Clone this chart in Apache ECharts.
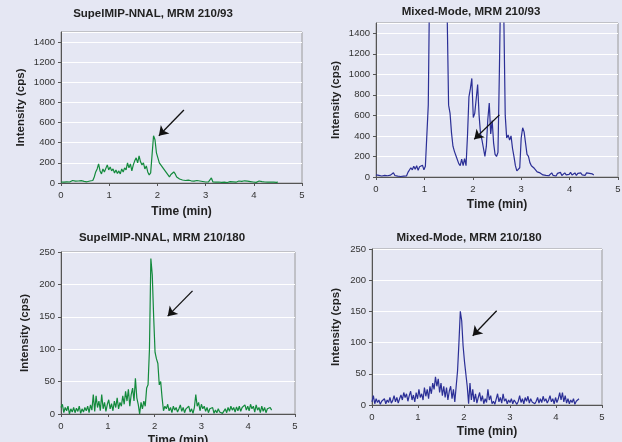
<!DOCTYPE html>
<html>
<head>
<meta charset="utf-8">
<script src="https://cdn.jsdelivr.net/npm/echarts@6/dist/echarts.min.js"></script>
<style>
html,body{margin:0;padding:0;background:#e5e7f3;}
#c{width:622px;height:442px;}
</style>
</head>
<body>
<div id="c"></div>
<script>
// Retention time (min), shared by all four chromatograms
const times = [
0,0.03,0.06,0.09,0.12,0.15,0.18,0.21,0.24,0.27,
0.3,0.33,0.36,0.39,0.42,0.45,0.48,0.51,0.54,0.57,
0.6,0.63,0.66,0.69,0.72,0.75,0.78,0.81,0.84,0.87,
0.9,0.93,0.96,0.99,1.02,1.05,1.08,1.11,1.14,1.17,
1.2,1.23,1.26,1.29,1.32,1.35,1.38,1.41,1.44,1.47,
1.5,1.53,1.56,1.59,1.62,1.65,1.68,1.71,1.74,1.77,
1.8,1.83,1.86,1.89,1.92,1.95,1.98,2.01,2.04,2.07,
2.1,2.13,2.16,2.19,2.22,2.25,2.28,2.31,2.34,2.37,
2.4,2.43,2.46,2.49,2.52,2.55,2.58,2.61,2.64,2.67,
2.7,2.73,2.76,2.79,2.82,2.85,2.88,2.91,2.94,2.97,
3,3.03,3.06,3.09,3.12,3.15,3.18,3.21,3.24,3.27,
3.3,3.33,3.36,3.39,3.42,3.45,3.48,3.51,3.54,3.57,
3.6,3.63,3.66,3.69,3.72,3.75,3.78,3.81,3.84,3.87,
3.9,3.93,3.96,3.99,4.02,4.05,4.08,4.11,4.14,4.17,
4.2,4.23,4.26,4.29,4.32,4.35,4.38,4.41,4.44,4.47,
4.5];

// SupelMIP-NNAL, MRM 210/93 (cps)
const mip93 = [
10,20,8,18,12,22,10,15,25,12,
18,8,20,14,24,10,16,22,12,28,
20,35,25,60,110,140,190,120,90,140,
110,125,180,130,160,120,140,100,130,95,
120,90,140,110,150,130,200,150,190,120,
180,220,250,200,270,210,180,200,140,170,
110,80,100,90,470,430,300,250,200,210,
160,140,120,110,80,60,85,70,110,90,
60,55,40,50,30,35,25,20,28,15,
22,12,18,10,25,12,20,8,15,22,
10,18,12,20,50,12,20,8,15,10,
18,6,12,8,15,5,10,14,6,12,
18,8,14,20,10,16,8,22,12,18,
8,14,20,10,16,6,12,20,8,14,
22,10,16,8,14,10,18,8,12,6,
10];

// Mixed-Mode, MRM 210/93 (cps) - main peaks run off scale
const mix93 = [
20,35,15,30,10,25,15,30,12,25,
18,30,42,15,20,8,15,5,12,8,
15,10,45,60,90,70,105,75,110,65,
100,85,115,70,105,90,700,2000,3000,3200,
3300,3400,3500,3400,3300,3200,3100,3000,2500,1600,
700,620,430,300,250,210,200,130,110,175,
110,180,110,400,780,860,960,580,620,760,
900,600,420,360,280,200,300,560,720,420,
550,330,220,200,240,1050,2000,2500,1600,600,
380,410,360,400,280,200,110,60,50,90,
380,480,440,330,220,200,140,110,120,85,
80,50,60,40,30,20,35,15,30,12,
25,40,15,28,10,35,20,45,15,30,
40,20,35,25,45,20,30,40,15,35,
25,40,20,30,15,40,25,35,18,30,
20];

// SupelMIP-NNAL, MRM 210/180 (cps)
const mip180 = [
10,15,2,10,5,12,0,8,3,10,
2,9,4,12,1,8,3,10,5,12,
2,14,6,30,4,28,10,20,5,30,
8,18,4,15,22,8,16,5,20,10,
25,8,18,12,28,15,35,20,38,12,
30,40,20,55,25,15,0,18,8,20,
12,40,45,100,240,215,150,95,85,78,
45,50,25,5,12,8,15,5,10,2,
12,6,10,3,8,14,4,10,2,8,
5,12,3,8,1,10,30,12,18,5,
15,8,12,4,10,2,8,5,10,1,
6,2,8,3,5,1,4,8,2,10,
4,12,6,10,3,11,5,12,4,10,
8,14,6,12,5,15,8,12,3,14,
6,10,2,12,4,10,2,8,5,10,
6];

// Mixed-Mode, MRM 210/180 (cps)
const mix180 = [
5,15,2,10,4,8,1,6,3,10,
2,8,4,12,3,7,15,5,12,3,
10,16,8,20,12,18,6,15,22,8,
16,5,20,10,25,12,18,8,28,14,
25,10,30,18,35,25,45,30,42,20,
35,15,30,12,28,8,22,30,10,25,
5,30,55,100,150,135,95,70,72,30,
2,35,8,25,5,18,3,12,20,6,
15,2,10,4,25,8,15,2,6,1,
4,18,5,12,3,18,6,10,2,8,
4,10,2,8,5,1,6,15,4,10,
2,12,6,14,3,10,5,8,2,6,
12,3,10,4,14,6,10,3,8,15,
5,10,2,12,4,10,20,8,20,5,
15,3,10,2,8,4,10,1,6,4,
10];

const panelTitles = ['SupelMIP-NNAL, MRM 210/93','Mixed-Mode, MRM 210/93','SupelMIP-NNAL, MRM 210/180','Mixed-Mode, MRM 210/180'];
const xTickLabels = ['0','1','2','3','4','5'];
const yMaxes = [1500,1500,250,250];
const yIntervals = [200,200,50,50];
const xName = 'Time (min)';
const yName = 'Intensity (cps)';
// annotation arrows (data coords): tail -> head
const arrowTails = [[2.55,725],[2.55,605],[2.81,190],[2.71,151]];
const arrowHeads = [[2.03,470],[2.03,367],[2.28,151],[2.19,111]];

const seriesValues = [mip93, mix93, mip180, mix180];
const lineColors = ['#138a3c','#2b2f96','#138a3c','#2b2f96'];

const FONT = '"Liberation Sans", Arial, sans-serif';
const grids = [
  {left:61, top:32, width:241, height:151},
  {left:376, top:23, width:242, height:154},
  {left:61, top:252, width:234, height:162},
  {left:372, top:249, width:230, height:156}
];
const titlePos = [[153,8],[471,6],[162,232],[469,232]];
const xNameGaps = [23,22,21,21];
const yNameGaps = [34,34,30,30];

const option = {
  animation:false,
  backgroundColor:'#e5e7f3',
  textStyle:{fontFamily:FONT},
  title: panelTitles.map((t,i)=>({
    text:t, left:titlePos[i][0], top:titlePos[i][1], textAlign:'center', padding:0,
    textStyle:{fontSize:11.5, fontWeight:'bold', color:'#222', fontFamily:FONT}
  })),
  grid: grids.map(g=>Object.assign({show:true, borderColor:'#9a9a9a', borderWidth:1, backgroundColor:'transparent', containLabel:false, outerBoundsMode:'none'}, g)),
  xAxis: grids.map((g,i)=>({
    type:'value', gridIndex:i, min:0, max:5, interval:1,
    axisLine:{show:true, onZero:false, lineStyle:{color:'#555', width:1}},
    axisTick:{show:true, length:3, lineStyle:{color:'#555'}},
    axisLabel:{fontSize:9.5, color:'#333', margin:7, fontFamily:FONT, formatter:(v)=>xTickLabels[Math.round(v)] ?? ''},
    splitLine:{show:false},
    name:xName, nameLocation:'middle', nameGap:xNameGaps[i],
    nameTextStyle:{fontSize:12, fontWeight:'bold', color:'#222', fontFamily:FONT}
  })),
  yAxis: grids.map((g,i)=>({
    type:'value', gridIndex:i, min:0, max:yMaxes[i], interval:yIntervals[i],
    axisLine:{show:true, onZero:false, lineStyle:{color:'#555', width:1}},
    axisTick:{show:true, length:3, lineStyle:{color:'#555'}},
    axisLabel:{fontSize:9.5, color:'#333', margin:6, fontFamily:FONT,
      showMaxLabel: yMaxes[i] % yIntervals[i] === 0,
      formatter:(v)=>String(v)},
    splitLine:{show:true, lineStyle:{color:'#ffffff', width:1.2}},
    name:yName, nameLocation:'middle', nameGap:yNameGaps[i],
    nameTextStyle:{fontSize:11.5, fontWeight:'bold', color:'#222', fontFamily:FONT}
  })),
  series: seriesValues.map((vals,i)=>({
    type:'line', xAxisIndex:i, yAxisIndex:i,
    data: times.map((t,k)=>[t, vals[k]]),
    showSymbol:false, symbol:'none', clip:true,
    lineStyle:{color:lineColors[i], width:1.2},
    itemStyle:{color:lineColors[i]},
    markLine:{
      silent:true, symbol:['none','arrow'], symbolSize:9, animation:false,
      label:{show:false},
      lineStyle:{color:'#111', width:1.3, type:'solid'},
      emphasis:{disabled:true},
      data:[[{coord:arrowTails[i]},{coord:arrowHeads[i]}]]
    }
  }))
};

const chart = echarts.init(document.getElementById('c'), null, {renderer:'canvas'});
chart.setOption(option);
</script>
</body>
</html>
